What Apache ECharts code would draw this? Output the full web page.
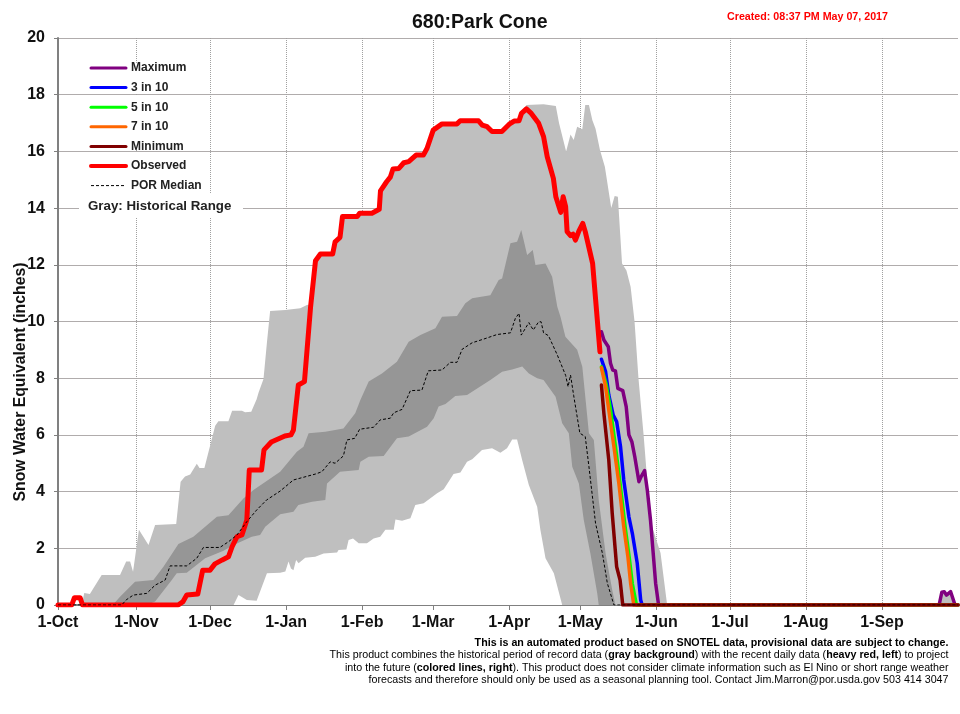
<!DOCTYPE html>
<html>
<head>
<meta charset="utf-8">
<title>680:Park Cone</title>
<script src="https://cdn.jsdelivr.net/npm/echarts@6/dist/echarts.min.js"></script>
<style>
  html, body { margin: 0; padding: 0; background: #fff; }
  #chart { width: 960px; height: 714px; }
</style>
</head>
<body>
<div id="chart"></div>
<script>
// x values are day positions counted from 1-Oct, y values are inches of SWE
var monthTicks = [0, 32, 62, 93, 124, 153, 184, 213, 244, 274, 305, 336];
var monthLabels = ['1-Oct', '1-Nov', '1-Dec', '1-Jan', '1-Feb', '1-Mar', '1-Apr', '1-May', '1-Jun', '1-Jul', '1-Aug', '1-Sep'];

var observed = [[0, 0], [5.6, 0], [6.7, 0.26], [9, 0.26], [10, 0], [49, 0], [51, 0.12], [52.5, 0.35], [57, 0.39], [59, 1.23],
  [62, 1.23], [64, 1.45], [67, 1.59], [69.5, 1.7], [71, 2.06], [73, 2.41], [75, 2.47], [77, 3], [78, 4.76], [83, 4.76],
  [84, 5.47], [87, 5.75], [92.5, 5.96], [95, 6], [96, 6.17], [98, 7.76], [100.5, 7.88], [103, 10.52], [105, 12.14], [107, 12.38],
  [112, 12.38], [113, 12.81], [115, 12.97], [116, 13.7], [122, 13.7], [123, 13.82], [128, 13.82], [131, 13.96], [131.5, 14.61],
  [134, 14.93], [135.5, 15.09], [136.6, 15.38], [139, 15.4], [141, 15.6], [143, 15.64], [146, 15.87], [149, 15.87], [150.5, 16.11],
  [153, 16.75], [156.6, 16.97], [162.7, 16.97], [164, 17.08], [171.5, 17.08], [173, 16.93], [175, 16.87], [177, 16.7], [181, 16.7],
  [184, 16.96], [186, 17.07], [188, 17.08], [189, 17.34], [191, 17.5], [193, 17.34], [196, 16.99], [198, 16.52], [199.5, 15.81],
  [202, 15.05], [203, 14.4], [205, 13.85], [206, 14.4], [207, 14.05], [207.6, 13.17], [209, 13.03], [210, 13.08], [211, 12.87],
  [212.4, 13.19], [214, 13.46], [215, 13.17], [218, 12.05], [221, 8.93]];

var porMedian = [[0, 0], [26, 0], [27.8, 0.18], [30.7, 0.35], [36.2, 0.41], [39.6, 0.7], [43.7, 0.88], [45.7, 1.38], [52.5, 1.38],
  [56.6, 1.65], [59.3, 2.03], [66, 2.03], [69.5, 2.23], [73, 2.47], [77, 2.94], [81, 3.35], [85, 3.7], [90.6, 4.02], [96, 4.41],
  [105, 4.62], [107.6, 4.7], [111, 5.05], [113, 5], [116.4, 5.26], [117.8, 5.82], [121, 5.88], [123, 6.2], [128.7, 6.27],
  [131.4, 6.53], [135.5, 6.59], [136.9, 6.78], [140.3, 6.9], [143.7, 7.56], [148.4, 7.58], [151, 8.26], [156.6, 8.29], [160, 8.56],
  [162.7, 8.56], [164.8, 9.02], [168.9, 9.25], [173.6, 9.38], [179, 9.54], [184.5, 9.6], [186.5, 10.11], [188, 10.29], [188.9, 9.52],
  [190.6, 9.76], [192, 9.96], [193.8, 9.7], [196, 9.99], [197, 9.99], [198, 9.6], [200, 9.5], [203.6, 8.82], [207, 8.1], [208, 7.7],
  [209, 8.11], [210.3, 7.38], [212.8, 6.06], [215, 5.94], [216.5, 4.88], [219.2, 2.88], [222, 1.82], [224, 0.77], [226.7, 0], [367, 0]];

var maximum = [[221.6, 9.64], [222.6, 9.35], [224.4, 9.11], [225.3, 8.53], [226.2, 8.29], [227.3, 8.26], [228.3, 7.64], [230.3, 7.56],
  [231.7, 7], [232.8, 6], [234, 5.76], [235.2, 5.23], [236.9, 4.35], [237.8, 4.53], [239.2, 4.74], [240.3, 4.06], [241.6, 3],
  [243.7, 0.77], [244.9, 0], [359.3, 0], [360.4, 0.45], [361.4, 0.47], [362.3, 0.35], [364, 0.47], [365.8, 0], [367, 0]];
var tenth3 = [[221.6, 8.67], [223.3, 8.23], [224.6, 7.41], [226.4, 6.7], [227.8, 6.47], [229.4, 5.58], [230.7, 4.41], [232.8, 3.11],
  [234.2, 2.53], [236.2, 1.47], [237.6, 0.18], [238.2, 0], [367, 0]];
var tenth5 = [[221.6, 8.4], [223.5, 7.8], [225.2, 6.95], [227.3, 5.6], [229.2, 4.3], [231.2, 2.8], [232.9, 1.7], [234.2, 0.75], [235.9, 0], [367, 0]];
var tenth7 = [[221.6, 8.37], [223.3, 7.7], [224.6, 6.88], [226.7, 5.58], [228.7, 4.29], [230.7, 2.76], [232.4, 1.7], [233.5, 0.77], [234.8, 0], [367, 0]];
var minimum = [[221.6, 7.76], [222.6, 6.76], [224.6, 5.11], [226, 3.23], [227.8, 1.35], [229.2, 0.88], [230.3, 0], [367, 0]];

// historical envelope, drawn back to front: each layer covers the one before
var rangeTop = [[9.7, 0], [10.7, 0.42], [13, 0.39], [17.8, 1.06], [25.3, 1.06], [27.8, 1.53], [29.4, 1.53], [30.6, 1.17], [33, 2.65],
  [36.9, 2.12], [39.6, 2.82], [48.2, 2.86], [50, 4.35], [51.8, 4.53], [53.9, 4.6], [56.6, 4.98], [57.7, 4.83], [59.7, 4.83],
  [64.1, 6.32], [65.4, 6.48], [69.5, 6.48], [71, 6.85], [75, 6.85], [76.3, 6.8], [78.8, 6.82], [81, 7.26], [81.8, 7.5], [83.8, 7.97],
  [85.2, 9.26], [86.5, 10.37], [92.7, 10.41], [98.8, 10.47], [101.5, 10.58], [103, 10.6], [105, 12.14], [107, 12.38],
  [112, 12.38], [113, 12.81], [115, 12.97], [116, 13.7], [122, 13.7], [123, 13.82], [128, 13.82], [131, 13.96], [131.5, 14.61],
  [134, 14.93], [135.5, 15.09], [136.6, 15.38], [139, 15.4], [141, 15.6], [143, 15.64], [146, 15.87], [149, 15.87], [150.5, 16.11],
  [153, 16.75], [156.6, 16.97], [162.7, 16.97], [164, 17.08], [171.5, 17.08], [173, 16.93], [175, 16.87], [177, 16.7], [181, 16.7],
  [184, 16.96], [186, 17.07], [188, 17.08], [189, 17.34], [191, 17.64], [198, 17.66], [203, 17.6], [204.3, 17], [207.2, 16],
  [209, 16.6], [210.3, 16.4], [211.7, 16.87], [213.8, 16.78], [215, 17.64], [216.5, 17.64], [217.9, 17.1], [219.2, 16.8], [221, 16.05],
  [223, 15.46], [225.6, 14], [227, 14.43], [228.3, 14.4], [230, 12.05], [231.8, 11.8], [233.5, 11.23], [235.1, 10], [236.7, 8],
  [238.8, 6], [240.8, 3.81], [242.3, 2.76], [245.7, 1.83], [248.4, 0], [359.3, 0], [360.4, 0.45], [361.4, 0.47], [362.3, 0.35],
  [364, 0.47], [365.8, 0]];
var bandUpper = [[22.3, 0], [25.3, 0.29], [31.4, 0.82], [38.9, 0.88], [43, 1.35], [49.1, 2.15], [55.2, 2.41], [64.8, 3.11], [69.5, 3.17],
  [75.6, 3.76], [79.7, 4.06], [90.6, 4.7], [97.4, 5.41], [100.1, 5.58], [102.2, 6.06], [109, 6.11], [116.4, 6.23], [121.2, 6.76],
  [123.3, 7.23], [126.7, 7.88], [132.1, 8.17], [138.2, 8.58], [143, 9.29], [147.8, 9.52], [153.9, 9.76], [156.6, 10.17], [162.7, 10.19],
  [166.1, 10.64], [168.9, 10.82], [176.3, 10.93], [179.7, 11.46], [181.1, 11.52], [184.5, 12.76], [187.2, 12.81], [188.9, 13.23],
  [189.9, 12.87], [191.3, 12.35], [193.6, 12.52], [194.7, 11.99], [198.8, 12.05], [201.5, 11.58], [203.6, 10.52], [204.9, 10.17],
  [206.9, 9.46], [211.7, 9], [213.8, 8.4], [216.5, 6.06], [218.5, 5.82], [220.5, 3.7], [223.3, 1.82], [226, 0.53], [227.3, 0]];
var bandLower = [[36.2, 0], [39.6, 0.12], [46.4, 0.88], [48.4, 1.12], [52.5, 1.14], [60, 1.65], [67.5, 1.91], [71.6, 2.12], [79, 2.41],
  [82.4, 2.47], [84.5, 2.76], [90.6, 3.2], [96, 3.29], [98, 3.53], [103.6, 3.64], [109, 3.7], [109.7, 4.29], [115, 4.7], [122.6, 4.76],
  [123.3, 5.05], [126.7, 5.23], [132.8, 5.26], [138.2, 5.88], [143, 5.94], [150.5, 6.29], [153.2, 6.59], [155.2, 7], [158, 7.09],
  [162, 7.37], [166.8, 7.41], [176.3, 7.94], [181.1, 8.23], [185.2, 8.31], [189.3, 8.41], [192, 8.17], [195.4, 8], [198, 7.94],
  [202.9, 7.35], [205.6, 6.41], [208.3, 6.06], [209.7, 4.88], [212.4, 4.29], [214.4, 3], [217.1, 1.82], [219.9, 0.41], [220.5, 0]];
var rangeBottom = [[71.6, 0], [73.6, 0.35], [77, 0.18], [81, 0.15], [85.2, 1.12], [90.6, 1.14], [92.7, 1.18], [94, 1.53], [95, 1.29],
  [96, 1.23], [97.1, 1.59], [98.1, 1.47], [100.8, 1.67], [104.9, 1.7], [108.3, 1.82], [113.8, 1.85], [114.4, 1.94], [117.6, 1.96],
  [118.5, 2.29], [120.3, 2.35], [122.6, 2.18], [126, 2.18], [128.7, 2.35], [131.4, 2.41], [133.5, 2.65], [136.9, 2.65], [137.6, 3.02],
  [140.3, 2.97], [143.7, 3.06], [145.7, 3.53], [149.1, 3.59], [154.6, 3.94], [157.3, 4.08], [161.3, 4.62], [164.1, 4.67], [166.8, 5.05],
  [168.9, 5.14], [172.9, 5.47], [177, 5.53], [180.4, 5.37], [183.1, 5.53], [185.2, 5.84], [187.2, 5.84], [189.3, 5.11], [192, 4.23],
  [195.4, 3.47], [196.7, 2.65], [198.8, 1.65], [202.2, 1.12], [205.6, 0]];

var LIGHT = '#bfbfbf';
var DARK = '#969696';
var FONT = '"Liberation Sans", Arial, sans-serif';

function area(name, data, color) {
  return {
    name: name, type: 'line', data: data, symbol: 'none', silent: true,
    lineStyle: { width: 0 }, areaStyle: { color: color, opacity: 1 }, z: 2
  };
}
function line(name, data, color, width) {
  return {
    name: name, type: 'line', data: data, symbol: 'none', silent: true,
    lineStyle: { color: color, width: width, cap: 'round', join: 'round' },
    itemStyle: { color: color }, z: 3
  };
}

var series = [
  area('rangeTop', rangeTop, LIGHT),
  area('bandUpper', bandUpper, DARK),
  area('bandLower', bandLower, LIGHT),
  area('rangeBottom', rangeBottom, '#ffffff'),
  line('Maximum', maximum, '#800080', 3.5),
  line('3 in 10', tenth3, '#0000ff', 3.5),
  line('5 in 10', tenth5, '#00ff00', 3.5),
  line('7 in 10', tenth7, '#ff6600', 3.5),
  line('Minimum', minimum, '#800000', 3.5),
  line('Observed', observed, '#ff0000', 5),
  line('POR Median', porMedian, '#000000', 1)
];
series[10].lineStyle.type = [3, 2];
series[10].lineStyle.cap = 'butt';

// white patches the original legend leaves on the gridlines
var masks = [[133.5, 63, 4, 31], [133.5, 96, 4, 54], [133.5, 152, 4, 41], [79, 193, 164, 25]].map(function (m) {
  return { type: 'rect', z: 1, silent: true, shape: { x: m[0], y: m[1], width: m[2], height: m[3] }, style: { fill: '#fff' } };
});

function note(y, rich) {
  return {
    type: 'text', x: 948.5, y: y, z: 5, silent: true,
    style: {
      text: rich, align: 'right', verticalAlign: 'middle',
      font: '10.7px ' + FONT, fill: '#000',
      rich: { b: { font: 'bold 10.7px ' + FONT, fill: '#000' } }
    }
  };
}

var myChart = echarts.init(document.getElementById('chart'));
myChart.setOption({
  animation: false,
  backgroundColor: '#fff',
  textStyle: { fontFamily: FONT },
  title: [{
    text: '680:Park Cone', left: 412, top: 13, padding: 0,
    textStyle: { fontSize: 19.5, fontWeight: 'bold', color: '#111', fontFamily: FONT }
  }, {
    text: 'Created: 08:37 PM May 07, 2017', left: 727, top: 12, padding: 0,
    textStyle: { fontSize: 10.7, fontWeight: 'bold', color: '#ff0000', fontFamily: FONT }
  }],
  legend: {
    orient: 'vertical', left: 89, top: 62, itemWidth: 35, itemHeight: 12, itemGap: 7.6,
    selectedMode: false, padding: 0,
    itemStyle: { opacity: 0 },
    data: [
      { name: 'Maximum', lineStyle: { width: 3 } },
      { name: '3 in 10', lineStyle: { width: 3 } },
      { name: '5 in 10', lineStyle: { width: 3 } },
      { name: '7 in 10', lineStyle: { width: 3 } },
      { name: 'Minimum', lineStyle: { width: 3 } },
      { name: 'Observed', lineStyle: { width: 4 } },
      { name: 'POR Median', lineStyle: { width: 1 } }
    ],
    textStyle: { fontSize: 12, fontWeight: 'bold', color: '#222', fontFamily: FONT }
  },
  grid: { left: 58, right: 2, top: 38, bottom: 109 },
  xAxis: [{
    type: 'value', min: 0, max: 367,
    axisLine: { onZero: false, lineStyle: { color: '#808080', width: 2 } },
    axisTick: { customValues: monthTicks, length: 5, lineStyle: { color: '#808080' } },
    axisLabel: {
      customValues: monthTicks, margin: 10, fontSize: 16, fontWeight: 'bold', color: '#111', fontFamily: FONT,
      formatter: function (v) { return monthLabels[monthTicks.indexOf(v)]; }
    },
    splitLine: { show: true, lineStyle: { color: '#a0a0a0', type: [1, 1] } }
  }, {
    type: 'value', min: 0, max: 367, position: 'top',
    axisLine: { show: true, lineStyle: { color: '#808080', width: 2 } },
    axisTick: { show: false }, axisLabel: { show: false }, splitLine: { show: false }
  }],
  yAxis: {
    type: 'value', min: 0, max: 20, interval: 2,
    axisLine: { show: true, lineStyle: { color: '#808080', width: 2 } },
    axisTick: { show: true, length: 4, lineStyle: { color: '#808080' } },
    axisLabel: { margin: 13, fontSize: 16, fontWeight: 'bold', color: '#111', fontFamily: FONT },
    splitLine: { show: true, lineStyle: { color: '#b0acac' } }
  },
  series: series,
  graphic: masks.concat([{
    type: 'text', x: 88, y: 206.5, z: 5, silent: true,
    style: { text: 'Gray: Historical Range', font: 'bold 13.3px ' + FONT, fill: '#222', verticalAlign: 'middle' }
  }, {
    type: 'text', x: 20.5, y: 382, rotation: Math.PI / 2, z: 5, silent: true,
    style: { text: 'Snow Water Equivalent (inches)', font: 'bold 15.8px ' + FONT, fill: '#111', align: 'center', verticalAlign: 'middle' }
  },
  note(643, '{b|This is an automated product based on SNOTEL data, provisional data are subject to change.}'),
  note(655.5, 'This product combines the historical period of record data ({b|gray background}) with the recent daily data ({b|heavy red, left}) to project'),
  note(668, 'into the future ({b|colored lines, right}). This product does not consider climate information such as El Nino or short range weather'),
  note(680, 'forecasts and therefore should only be used as a seasonal planning tool. Contact Jim.Marron@por.usda.gov 503 414 3047')
  ])
});
</script>
</body>
</html>
